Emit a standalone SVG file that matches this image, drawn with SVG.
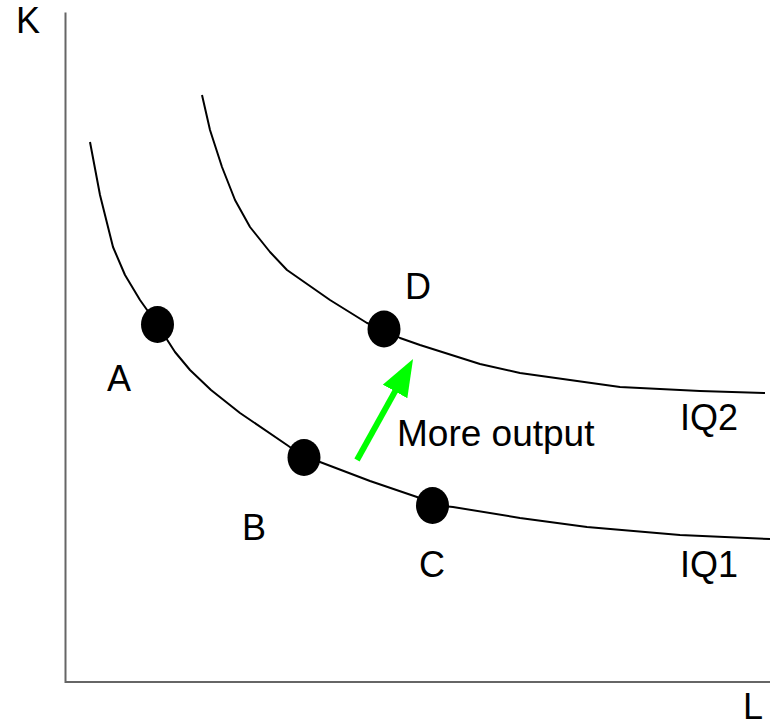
<svg xmlns="http://www.w3.org/2000/svg" width="770" height="726" viewBox="0 0 770 726">
<style>
.lbl{font-family:"Liberation Sans",Arial,sans-serif;font-size:36px;fill:#000}
.curve{fill:none;stroke:#000;stroke-width:2;stroke-linejoin:round;stroke-linecap:butt}
.axis{fill:none;stroke:#666;stroke-width:2}
.pt{fill:#000}
</style>
<defs>
<marker id="ah" markerUnits="userSpaceOnUse" markerWidth="40" markerHeight="30" refX="12" refY="14" orient="auto">
<path d="M0,0 L37,14 L0,28 Z" fill="#00ff00"/>
</marker>
</defs>
<rect width="770" height="726" fill="#fff"/>
<g id="axes">
<polyline class="axis" points="65.5,12.5 65.5,682 770,682"/>
<text class="lbl" x="16" y="33">K</text>
<text class="lbl" x="743" y="719">L</text>
</g>
<g id="connectors">
<polyline id="IQ1-curve" class="curve" points="90,142 100,195 113,247 125,275 140,300 157,324 175,352 190,370 211,390 240,413 287,445 304,457 320,462 370,481 417,497 433,505 453,507 520,518 587,527 680,535 770,539"/>
<polyline id="IQ2-curve" class="curve" points="202,95 210,130 222,167 235,200 250,227 270,252 287,270 330,300 367,323 384,329 400,338 420,345 480,364 520,373 620,387 700,391 765,393"/>
<line id="arrow" x1="357" y1="460" x2="400.9" y2="380.9" stroke="#00ff00" stroke-width="6" marker-end="url(#ah)"/>
</g>
<g id="A"><ellipse class="pt" cx="157.5" cy="324.5" rx="16.5" ry="18.5"/><text class="lbl" x="107" y="391">A</text></g>
<g id="B"><ellipse class="pt" cx="304" cy="457.5" rx="16.5" ry="18.5"/><text class="lbl" x="242" y="540">B</text></g>
<g id="C"><ellipse class="pt" cx="432.5" cy="505.5" rx="16.5" ry="18.5"/><text class="lbl" x="419" y="577">C</text></g>
<g id="D"><ellipse class="pt" cx="384" cy="329" rx="16.5" ry="18.5"/><text class="lbl" x="405" y="299">D</text></g>
<g id="label-more"><text class="lbl" x="397" y="446" style="font-size:37px">More output</text></g>
<g id="label-IQ2"><text class="lbl" x="680" y="430">IQ2</text></g>
<g id="label-IQ1"><text class="lbl" x="680" y="577">IQ1</text></g>
</svg>
